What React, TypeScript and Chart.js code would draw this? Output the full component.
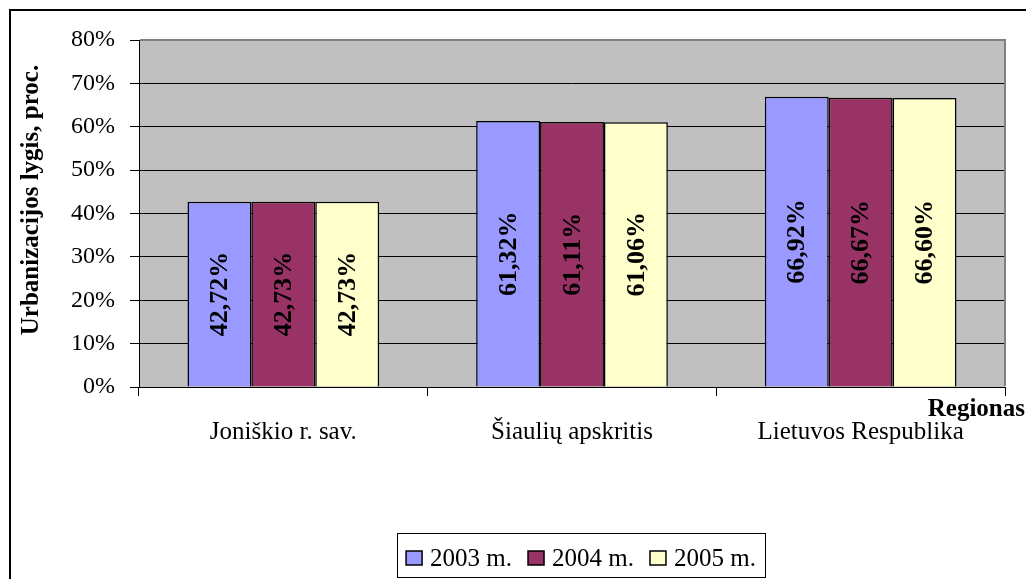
import React, { useEffect, useRef } from "react";
import { Chart, registerables } from "chart.js";

Chart.register(...registerables);

const categories = ["Joniškio r. sav.", "Šiaulių apskritis", "Lietuvos Respublika"];
const seriesLabels = ["2003 m.", "2004 m.", "2005 m."];
const values2003 = [42.72, 61.32, 66.92];
const values2004 = [42.73, 61.11, 66.67];
const values2005 = [42.73, 61.06, 66.6];
const seriesColors = ["#9999FF", "#993366", "#FFFFCC"];
const yMin = 0;
const yMax = 80;
const yStep = 10;
const yTitle = "Urbanizacijos lygis, proc.";
const xTitle = "Regionas";

const SERIF = "'Liberation Serif', 'Times New Roman', serif";

const fmt = (v: number) => v.toFixed(2).replace(".", ",") + "%";

const decorPlugin = {
  id: "decor",
  beforeDraw(chart: any) {
    const { ctx, chartArea: a, width, height } = chart;
    ctx.save();
    ctx.fillStyle = "#ffffff";
    ctx.fillRect(0, 0, width, height);
    // outer border (top + left)
    ctx.strokeStyle = "#000";
    ctx.lineWidth = 2;
    ctx.beginPath();
    ctx.moveTo(10, height);
    ctx.lineTo(10, 10);
    ctx.lineTo(width, 10);
    ctx.stroke();
    // plot area
    ctx.fillStyle = "#C0C0C0";
    ctx.fillRect(a.left, a.top, a.right - a.left, a.bottom - a.top);
    ctx.restore();
  },
  afterDatasetsDraw(chart: any) {
    const { ctx } = chart;
    ctx.save();
    ctx.fillStyle = "#000";
    ctx.font = "bold 26px " + SERIF;
    ctx.textAlign = "center";
    ctx.textBaseline = "middle";
    chart.data.datasets.forEach((ds: any, di: number) => {
      const meta = chart.getDatasetMeta(di);
      meta.data.forEach((bar: any, i: number) => {
        const cy = (bar.y + bar.base) / 2;
        ctx.save();
        ctx.translate(bar.x + 1, cy);
        ctx.rotate(-Math.PI / 2);
        ctx.fillText(fmt(ds.data[i]), 0, 0);
        ctx.restore();
      });
    });
    ctx.restore();
  },
  afterDraw(chart: any) {
    const { ctx, chartArea: a } = chart;
    ctx.save();
    // plot border top/right
    ctx.strokeStyle = "#808080";
    ctx.lineWidth = 2;
    ctx.beginPath();
    ctx.moveTo(a.left + 1, a.top);
    ctx.lineTo(a.right, a.top);
    ctx.lineTo(a.right, a.bottom - 1);
    ctx.stroke();

    // y title
    ctx.fillStyle = "#000";
    ctx.font = "bold 25px " + SERIF;
    ctx.textAlign = "center";
    ctx.textBaseline = "alphabetic";
    ctx.save();
    ctx.translate(38, 200);
    ctx.rotate(-Math.PI / 2);
    ctx.fillText(yTitle, 0, 0);
    ctx.restore();

    // x title
    ctx.font = "bold 25px " + SERIF;
    ctx.textAlign = "right";
    ctx.fillText(xTitle, 1025, 416);

    // legend
    const boxL = 397, boxT = 533, boxR = 765, boxB = 577;
    ctx.strokeStyle = "#000";
    ctx.lineWidth = 1;
    ctx.strokeRect(boxL + 0.5, boxT + 0.5, boxR - boxL, boxB - boxT);
    ctx.font = "25px " + SERIF;
    ctx.textAlign = "left";
    const sw = 16, sh = 14, g1 = 8, g2 = 16;
    const widths = seriesLabels.map((s) => ctx.measureText(s).width);
    const total = widths.reduce((p, w) => p + sw + g1 + w, 0) + g2 * (seriesLabels.length - 1);
    let x = (boxL + boxR) / 2 - total / 2;
    const cy = 557;
    seriesLabels.forEach((s, i) => {
      ctx.fillStyle = seriesColors[i];
      ctx.fillRect(x, cy - sh / 2 + 1, sw, sh);
      ctx.strokeStyle = "#000";
      ctx.lineWidth = 1.5;
      ctx.strokeRect(x, cy - sh / 2 + 1, sw, sh);
      x += sw + g1;
      ctx.fillStyle = "#000";
      ctx.fillText(s, x, 566);
      x += widths[i] + g2;
    });
    ctx.restore();
  },
};

export default function App() {
  const ref = useRef<HTMLCanvasElement | null>(null);
  useEffect(() => {
    if (!ref.current) return;
    const datasets = [values2003, values2004, values2005].map((vals, i) => ({
      label: seriesLabels[i],
      data: vals,
      backgroundColor: seriesColors[i],
      borderColor: "#000",
      borderWidth: 1.5,
      categoryPercentage: 0.664,
      barPercentage: 1,
    }));
    const chart = new Chart(ref.current, {
      type: "bar",
      data: { labels: categories, datasets },
      options: {
        responsive: false,
        animation: false,
        devicePixelRatio: 1,
        layout: { padding: { top: 40, right: 21, left: 0, bottom: 0 } },
        plugins: {
          legend: { display: false },
          title: { display: false },
          tooltip: { enabled: false },
        },
        scales: {
          x: {
            afterFit: (s: any) => {
              s.height = 192;
            },
            grid: {
              display: true,
              drawOnChartArea: false,
              drawTicks: true,
              tickLength: 9,
              color: "#000",
              offset: true,
            },
            border: { display: true, color: "#000", width: 1 },
            ticks: {
              color: "#000",
              font: { family: SERIF, size: 25 },
              padding: 21,
              maxRotation: 0,
            },
          },
          y: {
            min: yMin,
            max: yMax,
            afterFit: (s: any) => {
              s.width = 139;
            },
            grid: {
              color: "#000",
              lineWidth: 1,
              drawTicks: true,
              tickLength: 9,
            },
            border: { display: true, color: "#000", width: 1 },
            ticks: {
              stepSize: yStep,
              color: "#000",
              padding: 15,
              font: { family: SERIF, size: 24 },
              callback: (v: any) => v + "%",
            },
          },
        },
      },
      plugins: [decorPlugin],
    });
    return () => chart.destroy();
  }, []);
  return (
    <div style={{ position: "fixed", left: 0, top: 0, width: 1026, height: 579, background: "#fff" }}>
      <canvas ref={ref} width={1026} height={579} style={{ display: "block" }} />
    </div>
  );
}
